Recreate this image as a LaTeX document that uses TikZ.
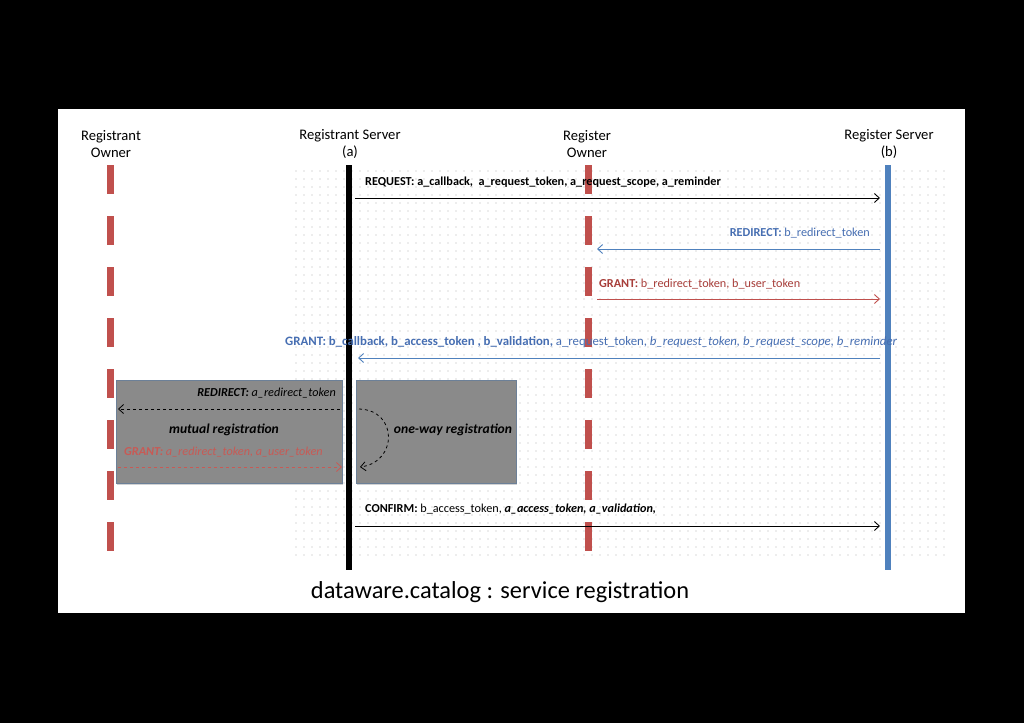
\documentclass[tikz,border=0pt]{standalone}
\usepackage{fontspec}
\setmainfont{Carlito}
\usetikzlibrary{arrows.meta,patterns.meta,shadows}
\definecolor{ored}{RGB}{192,80,77}
\definecolor{oblue}{RGB}{79,129,189}
\definecolor{lblue}{RGB}{70,110,178}
\definecolor{lred}{RGB}{168,62,58}
\definecolor{bred}{RGB}{200,90,85}
\definecolor{boxgray}{RGB}{138,138,138}
\tikzset{
  hdr/.style={align=center, font=\fontsize{14.6}{17}\selectfont, inner sep=0pt},
  lbl/.style={font=\fontsize{12.2}{14}\selectfont, inner sep=0pt},
  boxtitle/.style={font=\fontsize{13.6}{16}\selectfont\bfseries\itshape, inner sep=0pt},
  msg/.style={-{Straight Barb[length=5pt,width=9pt]}, line width=0.9pt},
  ownerline/.style={ored, line width=7pt, dash pattern=on 29pt off 22pt},
  serverline/.style={line width=6pt},
  regbox/.style={fill=boxgray, draw=oblue!40!gray, line width=0.5pt, inner sep=0pt,
    anchor=north west, drop shadow={shadow xshift=1pt, shadow yshift=-2pt, opacity=0.35}},
}
\begin{document}
\begin{tikzpicture}[x=1pt,y=-1pt]
\fill[black] (0,0) rectangle (1024,723);
\useasboundingbox (0,0) rectangle (1024,723);
\fill[white] (58,109) rectangle (965,613);
\fill[pattern={Dots[distance=8pt,radius=0.55pt]}, pattern color=gray!60] (290,165) rectangle (945,555);

% headers
\node[hdr] (hRO) at (111,144) {Registrant\\Owner};
\node[hdr] (hRS) at (350,144) {Registrant Server\\(a)};
\node[hdr] (hGO) at (587,144) {Register\\Owner};
\node[hdr] (hGS) at (889,144) {Register Server\\(b)};

% lifelines
\coordinate (roT) at (110,165); \coordinate (roB) at (110,552);
\coordinate (rsT) at (349,165); \coordinate (rsB) at (349,570);
\coordinate (goT) at (588,165); \coordinate (goB) at (588,552);
\coordinate (gsT) at (888,165); \coordinate (gsB) at (888,570);
\draw[ownerline] (roT) -- (roB);
\draw[ownerline] (goT) -- (goB);
\draw[serverline, black] (rsT) -- (rsB);
\draw[serverline, oblue] (gsT) -- (gsB);

% gray boxes
\node[regbox, minimum width=226pt, minimum height=103pt] (mbox) at (116,380) {};
\node[regbox, minimum width=160pt, minimum height=103pt] (obox) at (356,380) {};

% message 1
\coordinate (m1a) at (355,198); \coordinate (m1b) at (880,198);
\draw[msg, black] (m1a) -- (m1b);
\node[lbl, anchor=west] (l1) at (365,182) {\bfseries REQUEST: a\_callback,\ \ a\_request\_token, a\_request\_scope, a\_reminder};

% message 2
\coordinate (m2a) at (880,249); \coordinate (m2b) at (597,249);
\draw[msg, oblue] (m2a) -- (m2b);
\node[lbl, anchor=east, text=lblue] (l2) at (870,233) {\textbf{REDIRECT:} b\_redirect\_token};

% message 3
\coordinate (m3a) at (597,299); \coordinate (m3b) at (880,299);
\draw[msg, ored] (m3a) -- (m3b);
\node[lbl, anchor=west, text=lred] (l3) at (599,284) {\textbf{GRANT:} b\_redirect\_token, b\_user\_token};

% message 4
\coordinate (m4a) at (880,358); \coordinate (m4b) at (358,358);
\draw[msg, oblue] (m4a) -- (m4b);
\node[lbl, font=\fontsize{12.8}{15}\selectfont, anchor=west, text=lblue] (l4) at (285,342) {\textbf{GRANT: b\_callback, b\_access\_token , b\_validation,} a\_request\_token, \textit{b\_request\_token, b\_request\_scope, b\_reminder}};

% mutual registration
\coordinate (r1a) at (340,409); \coordinate (r1b) at (118,409);
\draw[msg, black, dashed, line width=0.8pt] (r1a) -- (r1b);
\node[lbl, anchor=east] (lr1) at (336,393) {\itshape\textbf{REDIRECT:} a\_redirect\_token};
\node[boxtitle] (mut) at (224,430) {mutual registration};
\node[lbl, anchor=west, text=bred] (lr2) at (124,452) {\itshape\textbf{GRANT:} a\_redirect\_token, a\_user\_token};
\coordinate (r2a) at (118,467); \coordinate (r2b) at (342,467);
\draw[msg, bred, dashed, line width=0.8pt] (r2a) -- (r2b);

% one-way registration
\coordinate (o1a) at (359,409); \coordinate (o1b) at (360,467);
\draw[msg, black, dashed, line width=0.8pt] (o1a) .. controls (398,410) and (398,462) .. (o1b);
\node[boxtitle] (one) at (453,430) {one-way registration};

% confirm
\coordinate (m5a) at (355,526); \coordinate (m5b) at (880,526);
\draw[msg, black] (m5a) -- (m5b);
\node[lbl, anchor=west] (l5) at (365,509) {\textbf{CONFIRM:} b\_access\_token, \textbf{\itshape a\_access\_token, a\_validation,}};

% title
\node[inner sep=0pt, font=\fontsize{24.4}{28}\selectfont] (title) at (500,592) {dataware.catalog : service registration};
\end{tikzpicture}
\end{document}
